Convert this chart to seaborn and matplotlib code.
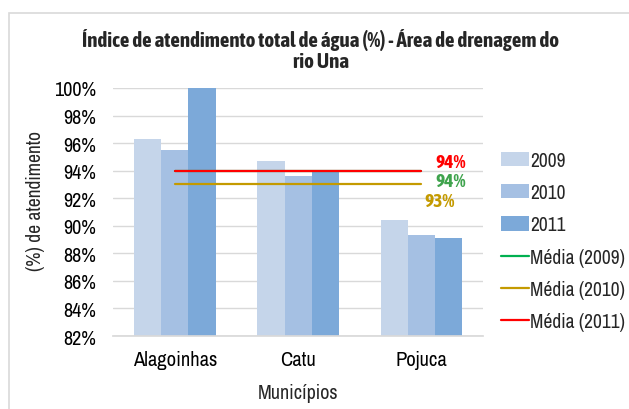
import matplotlib
matplotlib.use("Agg")
import matplotlib.pyplot as plt
import seaborn as sns
import pandas as pd
from matplotlib.lines import Line2D
from matplotlib.patches import Patch, Rectangle
from matplotlib.ticker import FuncFormatter

municipios = ["Alagoinhas", "Catu", "Pojuca"]
anos = ["2009", "2010", "2011"]
v2009 = [96.3, 94.7, 90.4]
v2010 = [95.5, 93.6, 89.3]
v2011 = [100.0, 94.0, 89.1]
medias = {"2009": 94.0, "2010": 93.0, "2011": 94.0}
media_labels = {"2009": "94%", "2010": "93%", "2011": "94%"}

bar_colors = ["#C5D5EA", "#A5C0E3", "#7CA9D9"]
line_colors = {"2009": "#00B050", "2010": "#C49A00", "2011": "#FF0000"}
label_colors = {"2009": "#3FA34D", "2010": "#C49A00", "2011": "#FF0000"}

sns.set_theme(style="white")
plt.rcParams["font.family"] = ["Archivo Narrow", "Liberation Sans", "DejaVu Sans"]
BOLD = ["Asap Condensed", "Liberation Sans", "DejaVu Sans"]

df = pd.DataFrame({
    "Município": municipios * 3,
    "Ano": [a for a in anos for _ in municipios],
    "Valor": v2009 + v2010 + v2011,
})

fig = plt.figure(figsize=(6.29, 4.10), dpi=100)
ax = fig.add_axes([0.180, 0.178, 0.588, 0.605])

sns.barplot(data=df, x="Município", y="Valor", hue="Ano", palette=bar_colors,
            width=0.66, ax=ax, legend=False, saturation=1, edgecolor="none")

for ano in ["2009", "2010", "2011"]:
    ax.plot([0, 2], [medias[ano]] * 2, color=line_colors[ano], lw=1.6, zorder=3)

ax.text(2.11, 94.63, media_labels["2011"], color=label_colors["2011"], fontsize=14,
        fontweight="bold", family=BOLD, ha="left", va="center")
ax.text(2.11, 93.25, media_labels["2009"], color=label_colors["2009"], fontsize=14,
        fontweight="bold", family=BOLD, ha="left", va="center")
ax.text(2.02, 91.8, media_labels["2010"], color=label_colors["2010"], fontsize=14,
        fontweight="bold", family=BOLD, ha="left", va="center")

ax.set_ylim(82, 100)
ax.set_xlim(-0.5, 2.5)
ax.set_yticks(range(82, 101, 2))
ax.yaxis.set_major_formatter(FuncFormatter(lambda v, p: f"{v:.0f}%"))
ax.grid(axis="y", color="#D9D9D9", lw=1)
ax.set_axisbelow(True)
for s in ["top", "right", "left"]:
    ax.spines[s].set_visible(False)
ax.spines["bottom"].set_color("#D9D9D9")
ax.tick_params(axis="y", labelsize=14.5, length=0, pad=12, colors="#000000")
ax.tick_params(axis="x", labelsize=14.8, length=0, pad=10, colors="#000000")
ax.set_xlabel("Municípios", fontsize=14.5)
ax.xaxis.set_label_coords(0.5, -0.19)
ax.xaxis.label.set_va("top")
ax.set_ylabel("(%) de atendimento", fontsize=14)
ax.yaxis.set_label_coords(-0.184, 0.55)

fig.text(0.51, 0.876, "Índice de atendimento total de água (%) - Área de drenagem do\nrio Una",
         ha="center", va="center", fontsize=15, fontweight="bold", family=BOLD,
         linespacing=1.08)

handles = [Patch(facecolor=c, edgecolor="none") for c in bar_colors]
handles += [Line2D([0], [0], color=line_colors[a], lw=1.6) for a in anos]
labels = anos + [f"Média ({a})" for a in anos]
fig.legend(handles, labels, loc="center left", bbox_to_anchor=(0.797, 0.41),
           frameon=False, fontsize=14, handlelength=1.4, handleheight=0.75,
           handletextpad=0.1, labelspacing=0.68, borderaxespad=0, borderpad=0)

fig.patches.append(Rectangle((0.014, -0.05), 1.2, 1.016, transform=fig.transFigure,
                             fill=False, edgecolor="#D9D9D9", lw=1.2))

fig.savefig("out.png", dpi=100)
